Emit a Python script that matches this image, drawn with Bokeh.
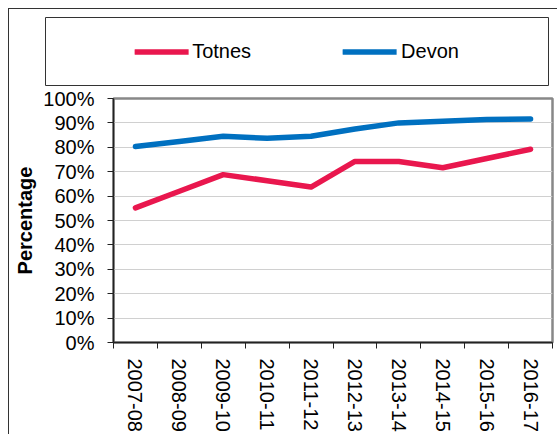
from bokeh.plotting import figure
from bokeh.models import Range1d, FixedTicker, NumeralTickFormatter, Legend, LegendItem
from bokeh.layouts import column
from bokeh.embed import file_html
from bokeh.resources import INLINE

# ---- data ----
years = ["2007-08", "2008-09", "2009-10", "2010-11", "2011-12",
         "2012-13", "2013-14", "2014-15", "2015-16", "2016-17"]
totnes = [0.552, 0.620, 0.688, 0.663, 0.637, 0.742, 0.742, 0.716, 0.754, 0.792]
devon = [0.803, 0.824, 0.845, 0.837, 0.845, 0.875, 0.900, 0.907, 0.914, 0.916]
series_names = ["Totnes", "Devon"]
series_colors = ["#E9174E", "#0070C0"]
y_ticks = [0.0, 0.1, 0.2, 0.3, 0.4, 0.5, 0.6, 0.7, 0.8, 0.9, 1.0]
y_title = "Percentage"

FONT = "Liberation Sans"
LW = 5.5
EDGE = "1px solid #333333"

n = len(years)
xc = [i + 0.5 for i in range(n)]          # category centres
xb = [float(i) for i in range(n + 1)]     # category boundaries
series = [totnes, devon]

# ---- legend panel (its frame is the legend box) ----
lf = figure(width=548, height=77, x_range=Range1d(-2 * n, -n), y_range=Range1d(0, 1),
            x_axis_location=None, y_axis_location=None,
            output_backend="svg", toolbar_location=None,
            min_border_left=36, min_border_right=9, min_border_top=8, min_border_bottom=1)
lf.grid.visible = False
lf.outline_line_color = "#333333"
lf.outline_line_width = 1
lf.background_fill_color = "white"
lf.border_fill_color = "white"
items = []
for name, vals, col in zip(series_names, series, series_colors):
    r = lf.line(xc, vals, line_color=col, line_width=LW, line_cap="round")  # outside view
    items.append(LegendItem(label=name, renderers=[r]))
legend = Legend(items=items, location="center", orientation="horizontal",
                glyph_width=54, glyph_height=20, label_standoff=4, spacing=92,
                padding=0, margin=0, border_line_alpha=0, background_fill_alpha=0,
                label_text_font=FONT, label_text_font_size="20px", label_text_color="black")
lf.add_layout(legend, "center")

# ---- main chart ----
p = figure(width=548, height=348, x_range=Range1d(0, n), y_range=Range1d(0, 1),
           output_backend="svg", toolbar_location=None,
           min_border_left=104, min_border_right=5, min_border_top=12, min_border_bottom=91)
p.background_fill_color = "white"
p.border_fill_color = "white"
p.outline_line_color = "#888888"
p.outline_line_width = 2.5

for fig in (lf, p):
    try:
        fig.frame_align = False
    except Exception:
        pass

p.xgrid.visible = False
p.ygrid.grid_line_color = "#d0d0d0"
p.ygrid.grid_line_width = 1.2
p.ygrid.ticker = FixedTicker(ticks=y_ticks)

for vals, col in zip(series, series_colors):
    p.line(xc, vals, line_color=col, line_width=LW, line_cap="round", line_join="round")

# y axis
ya = p.yaxis[0]
ya.ticker = FixedTicker(ticks=y_ticks)
ya.formatter = NumeralTickFormatter(format="0%")
ya.major_tick_in = 0
ya.major_tick_out = 6
ya.minor_tick_out = 0
ya.minor_tick_in = 0
ya.major_label_standoff = 13
ya.major_label_text_font = FONT
ya.major_label_text_font_size = "20px"
ya.major_label_text_color = "black"
ya.axis_line_color = "#222222"
ya.axis_line_width = 1.5
ya.major_tick_line_color = "#222222"
ya.major_tick_line_width = 1
ya.axis_label = y_title
ya.axis_label_text_font = FONT
ya.axis_label_text_font_size = "20px"
ya.axis_label_text_font_style = "bold"
ya.axis_label_text_color = "black"
ya.axis_label_standoff = 4

# x axis
xa = p.xaxis[0]
xa.ticker = FixedTicker(ticks=xc, minor_ticks=xb)
xa.major_label_overrides = {c: lab for c, lab in zip(xc, years)}
xa.major_tick_in = 0
xa.major_tick_out = 0
xa.minor_tick_in = 0
xa.minor_tick_out = 6
xa.minor_tick_line_color = "#222222"
xa.minor_tick_line_width = 1
xa.major_label_orientation = "vertical"
xa.major_label_standoff = 10
xa.major_label_text_font = FONT
xa.major_label_text_font_size = "20px"
xa.major_label_text_color = "black"
xa.axis_line_color = "#222222"
xa.axis_line_width = 1.5

layout = column(lf, p, spacing=0, margin=(8, 0, 0, 8),
                styles={"border-left": EDGE, "border-top": EDGE})

open("out.html", "w").write(file_html(layout, INLINE))
